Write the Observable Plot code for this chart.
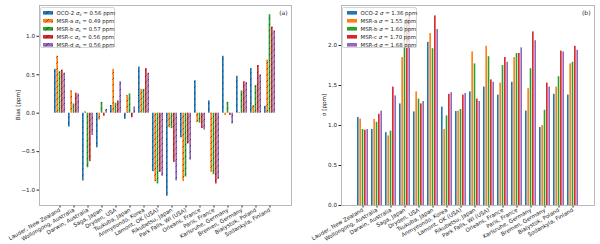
<!DOCTYPE html>
<html><head><meta charset="utf-8">
<script src="https://cdn.jsdelivr.net/npm/d3@7"></script>
<script src="https://cdn.jsdelivr.net/npm/@observablehq/plot@0.6"></script>
<style>
body{margin:0;background:#fff;font-family:"DejaVu Sans",sans-serif;}
#wrap{display:flex;width:600px;height:244px;}
.panel{position:relative;width:300px;height:244px;}
.legend{position:absolute;background:rgba(255,255,255,0.8);border:0.6px solid #d6d6d6;border-radius:2px;font-size:5.4px;color:#222;box-sizing:border-box;}
.row{position:absolute;left:0;height:8px;line-height:8px;white-space:nowrap;display:flex;align-items:center;}
.row svg{margin-right:3.5px;}
.row sub{font-size:4px;vertical-align:-1px;line-height:0;}
.ylab{position:absolute;font-size:5.6px;color:#222;transform:translate(-50%,-50%) rotate(-90deg);white-space:nowrap;}
</style></head>
<body><div id="wrap"><div class="panel" id="pa"></div><div class="panel" id="pb"></div></div>
<script>
const sites = ["Lauder, New Zealand","Wollongong, Australia","Darwin, Australia","Saga, Japan","Dryden, USA","Tsukuba, Japan","Anmyeondo, Korea","Lamont, OK (USA)","Rikubetsu, Japan","Park Falls, WI (USA)","Orleans, France","Paris, France","Karlsruhe, Germany","Bremen, Germany","Bialystok, Poland","Sodankyla, Finland"];
const seriesNames = ["OCO-2","MSR-a","MSR-b","MSR-c","MSR-d"];
const colors = ["#1f77b4","#ff7f0e","#2ca02c","#d62728","#9467bd"];
const biasSigmaLabels = ["0.56","0.49","0.57","0.56","0.56"];
const stdSigmaLabels = ["1.36","1.55","1.60","1.70","1.68"];

// Panel (a): bias [ppm]
const biasOCO2 = [0.57,-0.18,-0.88,-0.45,0.10,-0.08,0.60,-0.76,-1.08,-0.32,0.42,0.16,0.74,0.48,0.58,0.09];
const biasMSRa = [0.74,0.29,0.02,-0.09,0.57,0.23,0.31,-0.89,-0.19,-0.89,-0.12,-0.77,-0.03,0.01,0.10,0.69];
const biasMSRb = [0.54,0.12,-0.71,0.14,0.13,0.25,0.31,-0.92,-0.20,-0.83,-0.13,-0.80,0.14,0.29,0.36,1.28];
const biasMSRc = [0.56,0.26,-0.63,-0.04,0.16,-0.06,0.58,-0.77,-0.64,-0.40,-0.20,-0.92,-0.03,0.41,0.62,1.12];
const biasMSRd = [0.52,0.25,-0.29,0.05,0.41,0.08,0.52,-0.82,-0.88,-0.61,-0.22,-0.86,-0.14,0.40,0.50,1.07];

// Panel (b): standard deviation [ppm]
const sdOCO2 = [1.10,0.95,0.91,1.27,1.17,2.04,1.23,1.175,1.42,1.48,1.38,1.54,1.18,0.975,1.39,1.38];
const sdMSRa = [1.08,1.075,0.87,1.85,1.42,2.15,0.95,1.18,1.92,1.99,1.53,1.85,1.46,1.00,1.48,1.77];
const sdMSRb = [0.95,1.04,0.93,2.25,1.33,1.96,1.12,1.20,1.77,1.86,1.75,1.90,1.71,1.19,1.61,1.79];
const sdMSRc = [0.94,1.14,1.48,2.33,1.27,2.37,1.39,1.38,1.33,1.57,1.85,1.90,2.17,1.53,1.93,1.99];
const sdMSRd = [0.95,1.18,1.37,2.38,1.30,2.20,1.41,1.40,1.30,1.54,1.79,1.97,2.06,1.48,1.92,1.94];

const biasSeries = [biasOCO2,biasMSRa,biasMSRb,biasMSRc,biasMSRd];
const sdSeries = [sdOCO2,sdMSRa,sdMSRb,sdMSRc,sdMSRd];

function rowsOf(series){
  const out=[];
  series.forEach((vals,k)=>vals.forEach((v,i)=>out.push({site:sites[i],series:seriesNames[k],k,value:v})));
  return out;
}

function addHatchDefs(svg){
  const ns="http://www.w3.org/2000/svg";
  const defs=document.createElementNS(ns,"defs");
  colors.forEach((c,k)=>{
    const p=document.createElementNS(ns,"pattern");
    p.setAttribute("id","hatch"+k);
    p.setAttribute("patternUnits","userSpaceOnUse");
    p.setAttribute("width","6");p.setAttribute("height","6");
    p.innerHTML=`<rect width="6" height="6" fill="${c}"/><path d="M-1,1 l2,-2 M0,6 l6,-6 M5,7 l2,-2" stroke="rgba(20,20,40,0.7)" stroke-width="0.8"/>`;
    defs.appendChild(p);
  });
  svg.insertBefore(defs,svg.firstChild);
}

function makePanel(opts){
  const {series,yDomain,yTicks,marginLeft,marginRight,hatch,tag} = opts;
  const width=300,height=244,marginTop=5,marginBottom=39;
  const n=sites.length, pi=0.2, po=0.72;
  const step=(width-marginLeft-marginRight)/(n-pi+2*po);
  const bw=step*(1-pi)/seriesNames.length;
  const rows=rowsOf(series);
  const marks = seriesNames.map((s,k)=>Plot.barY(rows.filter(r=>r.k===k),{
    x:"site", y:"value",
    fill: hatch ? `url(#hatch${k})` : colors[k],
    insetLeft:k*bw, insetRight:(seriesNames.length-1-k)*bw
  }));
  const svg = Plot.plot({
    width,height,marginTop,marginBottom,marginLeft,marginRight,
    style:{fontFamily:"DejaVu Sans, sans-serif",fontSize:"5.5px",color:"#222",background:"white"},
    x:{type:"band",domain:sites,paddingInner:pi,paddingOuter:po,label:null},
    y:{domain:yDomain,label:null},
    marks:[
      ...marks,
      Plot.axisX({tickRotate:-30,tickSize:2.5,tickPadding:1.5,fontSize:5.5,label:null}),
      Plot.axisY({ticks:yTicks,tickSize:2.5,tickPadding:2,tickFormat:d3.format(".1f"),fontSize:5.6,label:null}),
      Plot.frame({stroke:"#a8a8a8",strokeWidth:0.8}),
      Plot.text([tag],{frameAnchor:"top-right",dx:-4,dy:5,fontSize:6,fill:"#222"})
    ]
  });
  if(hatch) addHatchDefs(svg);
  return svg;
}

const pa=document.getElementById("pa"), pb=document.getElementById("pb");
pa.appendChild(makePanel({series:biasSeries,yDomain:[-1.20,1.40],yTicks:[-1,-0.5,0,0.5,1],marginLeft:39,marginRight:9,hatch:true,tag:"(a)"}));
pb.appendChild(makePanel({series:sdSeries,yDomain:[0,2.5],yTicks:[0,0.5,1,1.5,2],marginLeft:41,marginRight:6,hatch:false,tag:"(b)"}));

function legend(parent,box,swX,txtX,labelFn,hatch){
  const d=document.createElement("div");
  d.className="legend";
  Object.assign(d.style,{left:box[0]+"px",top:box[1]+"px",width:box[2]+"px",height:box[3]+"px"});
  seriesNames.forEach((s,k)=>{
    const r=document.createElement("div");
    r.className="row";
    r.style.top=(1.2+k*8)+"px";
    r.style.left=swX+"px";
    const fill = hatch ? `url(#hatch${k})` : colors[k];
    r.innerHTML=`<svg width="10" height="3.6"><rect width="10" height="3.6" fill="${fill}"/></svg><span>${labelFn(k)}</span>`;
    d.appendChild(r);
  });
  parent.appendChild(d);
}
legend(pa,[40,7,75,41],2,0,k=>`${seriesNames[k]} <i>σ</i><sub><i>s</i></sub> = ${biasSigmaLabels[k]} ppm`,true);
legend(pb,[42,7,75,41],4,0,k=>`${seriesNames[k]} <i>σ</i> = ${stdSigmaLabels[k]} ppm`,false);

function ylab(parent,text,x,y){
  const d=document.createElement("div");
  d.className="ylab";d.textContent=text;
  d.style.left=x+"px";d.style.top=y+"px";
  parent.appendChild(d);
}
ylab(pa,"Bias [ppm]",18,105);
ylab(pb,"σ [ppm]",24,105);
</script></body></html>
